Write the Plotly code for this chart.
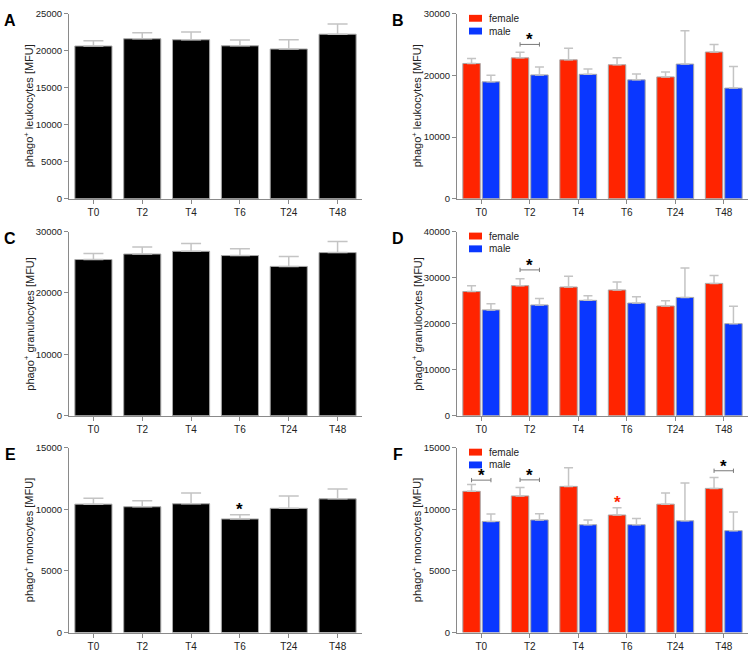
import plotly.graph_objects as go

times = ["T0", "T2", "T4", "T6", "T24", "T48"]

# panel A / B: leukocytes
leuk_all = [20650, 21630, 21500, 20680, 20250, 22250]
leuk_all_err = [720, 800, 1060, 770, 1250, 1380]
leuk_female = [21950, 22860, 22540, 21740, 19770, 23810]
leuk_female_err = [800, 910, 1860, 1120, 800, 1230]
leuk_male = [18970, 20090, 20190, 19290, 21850, 17950]
leuk_male_err = [1060, 1280, 860, 960, 5430, 3520]

# panel C / D: granulocytes
gran_all = [25450, 26350, 26790, 26100, 24330, 26580]
gran_all_err = [970, 1130, 1280, 1120, 1600, 1810]
gran_female = [26980, 28260, 27960, 27320, 23840, 28750]
gran_female_err = [1280, 1490, 2350, 1710, 1130, 1710]
gran_male = [22990, 24060, 25060, 24480, 25700, 20000]
gran_male_err = [1340, 1420, 980, 1350, 6400, 3780]

# panel E / F: monocytes
mono_all = [10420, 10210, 10450, 9220, 10080, 10850]
mono_all_err = [480, 480, 880, 350, 1010, 800]
mono_female = [11460, 11090, 11860, 9540, 10420, 11700]
mono_female_err = [560, 690, 1510, 590, 910, 880]
mono_male = [9020, 9140, 8750, 8750, 9070, 8270]
mono_male_err = [600, 510, 390, 510, 3060, 1510]

# significance brackets (female vs male) and single stars
sig_B = {"T2": 25040}
sig_D = {"T2": 31680}
sig_F = {"T0": 12370, "T2": 12390, "T48": 13130}
star_E = ["T6"]          # vs T0, all subjects
star_F_female = ["T6"]   # vs T0, female

FONT = "Arial, Liberation Sans, sans-serif"
RED = "#ff2400"
BLUE = "#0a37ff"
AXIS_COLOR = "#8a8a8a"
ERR_COLOR = "#c4c4c4"
OUTLINE = "#a8a8a8"

W, H = 752, 652
LEFT_X = [69 / W, 362 / W]
RIGHT_X = [457 / W, 748 / W]
ROWS_Y = [
    [1 - 196 / H, 1 - 8 / H],
    [1 - 416.7 / H, 1 - 229.5 / H],
    [1 - 637.3 / H, 1 - 449.3 / H],
]

panels = [
    # letter, col, row, ymax, dtick, title
    ("A", 0, 0, 25000, 5000, "phago<sup>+</sup> leukocytes [MFU]"),
    ("B", 1, 0, 30000, 10000, "phago<sup>+</sup> leukocytes [MFU]"),
    ("C", 0, 1, 30000, 10000, "phago<sup>+</sup> granulocytes [MFU]"),
    ("D", 1, 1, 40000, 10000, "phago<sup>+</sup> granulocytes [MFU]"),
    ("E", 0, 2, 15000, 5000, "phago<sup>+</sup> monocytes [MFU]"),
    ("F", 1, 2, 15000, 5000, "phago<sup>+</sup> monocytes [MFU]"),
]

fig = go.Figure()
layout = dict(
    width=W,
    height=H,
    margin=dict(l=0, r=0, t=0, b=0),
    paper_bgcolor="white",
    plot_bgcolor="white",
    showlegend=False,
    barmode="overlay",
    font=dict(family=FONT, size=10, color="#222"),
)
shapes = []
annotations = []


def err(vals, size, w):
    return dict(
        type="data", symmetric=False, array=size, arrayminus=[0] * len(vals),
        color=ERR_COLOR, thickness=1.5, width=w,
    )


def add_single(vals, errs, n):
    fig.add_trace(go.Bar(
        x=times, y=vals, width=0.76,
        marker=dict(color="black", line=dict(color=OUTLINE, width=1)),
        error_y=err(vals, errs, 10),
        xaxis=f"x{n}", yaxis=f"y{n}",
    ))


def add_pair(fem, fem_err, mal, mal_err, n):
    fig.add_trace(go.Bar(
        x=times, y=fem, width=0.36, offset=-0.38, name="female",
        marker=dict(color=RED, line=dict(color=OUTLINE, width=1)),
        error_y=err(fem, fem_err, 4.5),
        xaxis=f"x{n}", yaxis=f"y{n}",
    ))
    fig.add_trace(go.Bar(
        x=times, y=mal, width=0.36, offset=0.02, name="male",
        marker=dict(color=BLUE, line=dict(color=OUTLINE, width=1)),
        error_y=err(mal, mal_err, 4.5),
        xaxis=f"x{n}", yaxis=f"y{n}",
    ))


add_single(leuk_all, leuk_all_err, "")
add_pair(leuk_female, leuk_female_err, leuk_male, leuk_male_err, 2)
add_single(gran_all, gran_all_err, 3)
add_pair(gran_female, gran_female_err, gran_male, gran_male_err, 4)
add_single(mono_all, mono_all_err, 5)
add_pair(mono_female, mono_female_err, mono_male, mono_male_err, 6)

for i, (letter, col, row, ymax, dtick, title) in enumerate(panels):
    n = "" if i == 0 else str(i + 1)
    xdom = LEFT_X if col == 0 else RIGHT_X
    ydom = ROWS_Y[row]
    layout[f"xaxis{n}"] = dict(
        domain=xdom, anchor=f"y{n}", type="category",
        range=[-0.5, 5.5], showline=True, linecolor=AXIS_COLOR, linewidth=1,
        ticks="outside", ticklen=4, tickcolor=AXIS_COLOR,
        showgrid=False, zeroline=False, fixedrange=True,
        tickfont=dict(size=10, color="#222"),
    )
    layout[f"yaxis{n}"] = dict(
        domain=ydom, anchor=f"x{n}", range=[0, ymax], dtick=dtick,
        tickformat="d", showline=True, linecolor=AXIS_COLOR, linewidth=1,
        ticks="outside", ticklen=4, tickcolor=AXIS_COLOR,
        showgrid=False, zeroline=False, fixedrange=True,
        tickfont=dict(size=9.5, color="#222"),
    )
    # y axis title, placed by hand to sit close to the tick labels
    annotations.append(dict(
        text=title, xref="paper", yref="paper",
        x=(xdom[0] * W - 40) / W, y=(ydom[0] + ydom[1]) / 2,
        xanchor="center", yanchor="middle", textangle=-90, showarrow=False,
        font=dict(size=11, color="#222"),
    ))
    # panel letter
    annotations.append(dict(
        text=f"<b>{letter}</b>", xref="paper", yref="paper",
        x=(xdom[0] * W - 59) / W, y=ydom[1] + 4 / H,
        xanchor="center", yanchor="top", showarrow=False,
        font=dict(size=16, color="black", family=FONT),
    ))
    if col == 1:
        # legend
        top_px = (1 - ydom[1]) * H
        for k, (lab, c) in enumerate([("female", RED), ("male", BLUE)]):
            y0 = top_px + 1 + k * 13
            shapes.append(dict(
                type="rect", xref="paper", yref="paper",
                x0=469 / W, x1=482 / W, y0=1 - (y0 + 7) / H, y1=1 - y0 / H,
                fillcolor=c, line=dict(width=0),
            ))
            annotations.append(dict(
                text=lab, xref="paper", yref="paper",
                x=487 / W, y=1 - (y0 + 3.5) / H, xanchor="left", yanchor="middle",
                showarrow=False, font=dict(size=10, color="#222"),
            ))

# significance brackets
plot_h = 188
for n, sig, ymax in [(2, sig_B, 30000), (4, sig_D, 40000), (6, sig_F, 15000)]:
    d = 2.2 * ymax / plot_h
    for t, yv in sig.items():
        xi = times.index(t)
        for x0, x1, y0, y1 in [
            (xi - 0.2, xi + 0.2, yv, yv),
            (xi - 0.2, xi - 0.2, yv - d, yv + d),
            (xi + 0.2, xi + 0.2, yv - d, yv + d),
        ]:
            shapes.append(dict(
                type="line", xref=f"x{n}", yref=f"y{n}",
                x0=x0, x1=x1, y0=y0, y1=y1,
                line=dict(color="#7a7a7a", width=1),
            ))
        annotations.append(dict(
            text="<b>*</b>", xref=f"x{n}", yref=f"y{n}", x=xi, y=yv,
            xanchor="center", yanchor="bottom", yshift=-7, showarrow=False,
            font=dict(size=17, color="black"),
        ))

for t in star_E:
    xi = times.index(t)
    annotations.append(dict(
        text="<b>*</b>", xref="x5", yref="y5", x=xi,
        y=mono_all[xi] + mono_all_err[xi],
        xanchor="center", yanchor="bottom", yshift=-6, showarrow=False,
        font=dict(size=17, color="black"),
    ))
for t in star_F_female:
    xi = times.index(t)
    annotations.append(dict(
        text="<b>*</b>", xref="x6", yref="y6", x=xi - 0.2,
        y=mono_female[xi] + mono_female_err[xi],
        xanchor="center", yanchor="bottom", yshift=-6, showarrow=False,
        font=dict(size=17, color=RED),
    ))

layout["shapes"] = shapes
layout["annotations"] = annotations
fig.update_layout(**layout)
fig.write_html(
    "out.html",
    config={"displayModeBar": False},
    post_script="document.body.style.margin='0';",
)
